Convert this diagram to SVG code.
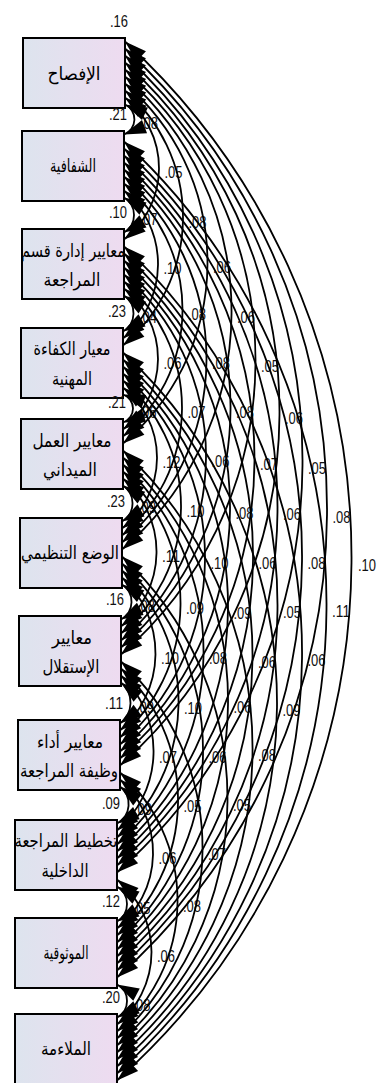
<svg xmlns="http://www.w3.org/2000/svg" width="380" height="1083" viewBox="0 0 380 1083">
<style>
.box{stroke:#000;stroke-width:2;fill:url(#g)}
.t{font-family:"DejaVu Sans",sans-serif;font-size:18px;fill:#000;text-anchor:middle}
.v{font-family:"Liberation Sans",Arial,sans-serif;font-size:16px;fill:#111;text-anchor:end}
.e{font-family:"Liberation Sans",Arial,sans-serif;font-size:16px;fill:#111}
.c{fill:none;stroke:#000;stroke-width:1.8;marker-start:url(#ah);marker-end:url(#ah)}
</style>
<defs>
<linearGradient id="g" x1="0" y1="0" x2="1" y2="0">
<stop offset="0" stop-color="#dde4ee"/>
<stop offset="1" stop-color="#eedbf0"/>
</linearGradient>
<marker id="ah" viewBox="-23 -8 24 16" refX="0" refY="0" markerWidth="24" markerHeight="16" markerUnits="userSpaceOnUse" orient="auto-start-reverse" overflow="visible">
<path d="M0,0 L-22,-7 L-22,7 Z" fill="#000"/>
</marker>
</defs>
<rect width="380" height="1083" fill="#fff"/>
<g id="n1"><rect class="box" x="23" y="38" width="102" height="70"/><text class="t" x="74" y="80" textLength="53" lengthAdjust="spacingAndGlyphs">الإفصاح</text><text class="v" x="128" y="27" textLength="18" lengthAdjust="spacingAndGlyphs">.16</text></g>
<g id="n2"><rect class="box" x="22" y="131" width="102" height="70"/><text class="t" x="73" y="172" textLength="46" lengthAdjust="spacingAndGlyphs">الشفافية</text><text class="v" x="127" y="120" textLength="18" lengthAdjust="spacingAndGlyphs">.21</text></g>
<g id="n3"><rect class="box" x="22" y="229" width="102" height="70"/><text class="t" x="73" y="257" textLength="104" lengthAdjust="spacingAndGlyphs">معايير إدارة قسم</text><text class="t" x="72" y="286" textLength="57" lengthAdjust="spacingAndGlyphs">المراجعة</text><text class="v" x="127" y="218" textLength="18" lengthAdjust="spacingAndGlyphs">.10</text></g>
<g id="n4"><rect class="box" x="21" y="328" width="102" height="70"/><text class="t" x="72" y="355" textLength="77" lengthAdjust="spacingAndGlyphs">معيار الكفاءة</text><text class="t" x="72" y="385" textLength="40" lengthAdjust="spacingAndGlyphs">المهنية</text><text class="v" x="126" y="317" textLength="18" lengthAdjust="spacingAndGlyphs">.23</text></g>
<g id="n5"><rect class="box" x="21" y="419" width="102" height="70"/><text class="t" x="72" y="447" textLength="79" lengthAdjust="spacingAndGlyphs">معايير العمل</text><text class="t" x="70" y="476" textLength="54" lengthAdjust="spacingAndGlyphs">الميداني</text><text class="v" x="126" y="408" textLength="18" lengthAdjust="spacingAndGlyphs">.21</text></g>
<g id="n6"><rect class="box" x="20" y="518" width="102" height="70"/><text class="t" x="70" y="559" textLength="98" lengthAdjust="spacingAndGlyphs">الوضع التنظيمي</text><text class="v" x="125" y="507" textLength="18" lengthAdjust="spacingAndGlyphs">.23</text></g>
<g id="n7"><rect class="box" x="19" y="616" width="102" height="70"/><text class="t" x="72" y="644" textLength="40" lengthAdjust="spacingAndGlyphs">معايير</text><text class="t" x="71" y="673" textLength="57" lengthAdjust="spacingAndGlyphs">الإستقلال</text><text class="v" x="124" y="605" textLength="18" lengthAdjust="spacingAndGlyphs">.16</text></g>
<g id="n8"><rect class="box" x="18" y="720" width="102" height="70"/><text class="t" x="70" y="748" textLength="66" lengthAdjust="spacingAndGlyphs">معايير أداء</text><text class="t" x="69" y="777" textLength="98" lengthAdjust="spacingAndGlyphs">وظيفة المراجعة</text><text class="v" x="123" y="709" textLength="18" lengthAdjust="spacingAndGlyphs">.11</text></g>
<g id="n9"><rect class="box" x="15" y="820" width="102" height="70"/><text class="t" x="66" y="847" textLength="103" lengthAdjust="spacingAndGlyphs">تخطيط المراجعة</text><text class="t" x="65" y="877" textLength="47" lengthAdjust="spacingAndGlyphs">الداخلية</text><text class="v" x="120" y="809" textLength="18" lengthAdjust="spacingAndGlyphs">.09</text></g>
<g id="n10"><rect class="box" x="15" y="918" width="102" height="70"/><text class="t" x="66" y="959" textLength="45" lengthAdjust="spacingAndGlyphs">الموثوقية</text><text class="v" x="120" y="907" textLength="18" lengthAdjust="spacingAndGlyphs">.12</text></g>
<g id="n11"><rect class="box" x="15" y="1014" width="102" height="70"/><text class="t" x="66" y="1055" textLength="50" lengthAdjust="spacingAndGlyphs">الملاءمة</text><text class="v" x="120" y="1003" textLength="18" lengthAdjust="spacingAndGlyphs">.20</text></g>
<g id="edge-labels" class="e">
<text x="140" y="129" textLength="18" lengthAdjust="spacingAndGlyphs">.08</text>
<text x="139.5" y="224.5" textLength="18" lengthAdjust="spacingAndGlyphs">.07</text>
<text x="139" y="323" textLength="18" lengthAdjust="spacingAndGlyphs">.04</text>
<text x="138.5" y="418" textLength="18" lengthAdjust="spacingAndGlyphs">.06</text>
<text x="138" y="513" textLength="18" lengthAdjust="spacingAndGlyphs">.09</text>
<text x="137" y="611.5" textLength="18" lengthAdjust="spacingAndGlyphs">.08</text>
<text x="136" y="712.5" textLength="18" lengthAdjust="spacingAndGlyphs">.09</text>
<text x="134" y="814.5" textLength="18" lengthAdjust="spacingAndGlyphs">.09</text>
<text x="132.5" y="913.5" textLength="18" lengthAdjust="spacingAndGlyphs">.05</text>
<text x="132.5" y="1010.5" textLength="18" lengthAdjust="spacingAndGlyphs">.08</text>
<text x="164.5" y="178" textLength="18" lengthAdjust="spacingAndGlyphs">.05</text>
<text x="163.5" y="274" textLength="18" lengthAdjust="spacingAndGlyphs">.10</text>
<text x="163.5" y="368.5" textLength="18" lengthAdjust="spacingAndGlyphs">.06</text>
<text x="162.5" y="467.5" textLength="18" lengthAdjust="spacingAndGlyphs">.12</text>
<text x="162" y="562" textLength="18" lengthAdjust="spacingAndGlyphs">.11</text>
<text x="161" y="663.5" textLength="18" lengthAdjust="spacingAndGlyphs">.10</text>
<text x="159" y="762.5" textLength="18" lengthAdjust="spacingAndGlyphs">.07</text>
<text x="158.5" y="863.5" textLength="18" lengthAdjust="spacingAndGlyphs">.06</text>
<text x="157" y="961.5" textLength="18" lengthAdjust="spacingAndGlyphs">.06</text>
<text x="188.5" y="227.5" textLength="18" lengthAdjust="spacingAndGlyphs">.08</text>
<text x="188" y="319.5" textLength="18" lengthAdjust="spacingAndGlyphs">.08</text>
<text x="187.5" y="418" textLength="18" lengthAdjust="spacingAndGlyphs">.07</text>
<text x="186.5" y="516.5" textLength="18" lengthAdjust="spacingAndGlyphs">.10</text>
<text x="186" y="614" textLength="18" lengthAdjust="spacingAndGlyphs">.09</text>
<text x="184" y="713.5" textLength="18" lengthAdjust="spacingAndGlyphs">.10</text>
<text x="183.5" y="811.5" textLength="18" lengthAdjust="spacingAndGlyphs">.05</text>
<text x="183" y="911.5" textLength="18" lengthAdjust="spacingAndGlyphs">.08</text>
<text x="213" y="273" textLength="18" lengthAdjust="spacingAndGlyphs">.06</text>
<text x="212" y="369" textLength="18" lengthAdjust="spacingAndGlyphs">.08</text>
<text x="211.5" y="467" textLength="18" lengthAdjust="spacingAndGlyphs">.06</text>
<text x="210.5" y="568.5" textLength="18" lengthAdjust="spacingAndGlyphs">.10</text>
<text x="209" y="664" textLength="18" lengthAdjust="spacingAndGlyphs">.08</text>
<text x="208.5" y="762.5" textLength="18" lengthAdjust="spacingAndGlyphs">.06</text>
<text x="208" y="859.5" textLength="18" lengthAdjust="spacingAndGlyphs">.07</text>
<text x="237" y="322.5" textLength="18" lengthAdjust="spacingAndGlyphs">.06</text>
<text x="236" y="418" textLength="18" lengthAdjust="spacingAndGlyphs">.08</text>
<text x="235.5" y="519" textLength="18" lengthAdjust="spacingAndGlyphs">.08</text>
<text x="233.5" y="618.5" textLength="18" lengthAdjust="spacingAndGlyphs">.09</text>
<text x="233.5" y="713" textLength="18" lengthAdjust="spacingAndGlyphs">.06</text>
<text x="233" y="810.5" textLength="18" lengthAdjust="spacingAndGlyphs">.05</text>
<text x="261" y="371.5" textLength="18" lengthAdjust="spacingAndGlyphs">.05</text>
<text x="260" y="470" textLength="18" lengthAdjust="spacingAndGlyphs">.07</text>
<text x="258.5" y="569" textLength="18" lengthAdjust="spacingAndGlyphs">.06</text>
<text x="258" y="667.5" textLength="18" lengthAdjust="spacingAndGlyphs">.06</text>
<text x="258" y="761" textLength="18" lengthAdjust="spacingAndGlyphs">.08</text>
<text x="285" y="423.5" textLength="18" lengthAdjust="spacingAndGlyphs">.06</text>
<text x="283" y="520" textLength="18" lengthAdjust="spacingAndGlyphs">.06</text>
<text x="283" y="618" textLength="18" lengthAdjust="spacingAndGlyphs">.05</text>
<text x="282.5" y="715.5" textLength="18" lengthAdjust="spacingAndGlyphs">.09</text>
<text x="308" y="473.5" textLength="18" lengthAdjust="spacingAndGlyphs">.05</text>
<text x="307.5" y="569" textLength="18" lengthAdjust="spacingAndGlyphs">.08</text>
<text x="307.5" y="666" textLength="18" lengthAdjust="spacingAndGlyphs">.06</text>
<text x="332.5" y="522.5" textLength="18" lengthAdjust="spacingAndGlyphs">.08</text>
<text x="332" y="617" textLength="18" lengthAdjust="spacingAndGlyphs">.11</text>
<text x="358" y="571" textLength="18" lengthAdjust="spacingAndGlyphs">.10</text>
</g>
<g id="connectors">
<path class="c" d="M125,104.5 A16.3,16.3 0 0 1 124,134.5"/>
<path class="c" d="M124,197.5 A20.3,20.3 0 0 1 124,232.5"/>
<path class="c" d="M124,295.5 A21.2,21.2 0 0 1 123,331.5"/>
<path class="c" d="M123,394.5 A14.8,14.8 0 0 1 123,422.5"/>
<path class="c" d="M123,485.5 A21.2,21.2 0 0 1 122,521.5"/>
<path class="c" d="M122,584.5 A20.3,20.3 0 0 1 121,619.5"/>
<path class="c" d="M121,682.5 A26,26 0 0 1 120,723.5"/>
<path class="c" d="M120,786.5 A22.1,22.1 0 0 1 117,823.5"/>
<path class="c" d="M117,886.5 A20.3,20.3 0 0 1 117,921.5"/>
<path class="c" d="M117,984.5 A18.6,18.6 0 0 1 117,1017.5"/>
<path class="c" d="M125,97.5 A90.3,90.3 0 0 1 124,239.5"/>
<path class="c" d="M124,190.5 A96.6,96.6 0 0 1 123,338.5"/>
<path class="c" d="M124,288.5 A89.3,89.3 0 0 1 123,429.5"/>
<path class="c" d="M123,387.5 A89.3,89.3 0 0 1 122,528.5"/>
<path class="c" d="M123,478.5 A96.6,96.6 0 0 1 121,626.5"/>
<path class="c" d="M122,577.5 A102.1,102.1 0 0 1 120,730.5"/>
<path class="c" d="M121,675.5 A104.3,104.3 0 0 1 117,830.5"/>
<path class="c" d="M120,779.5 A97.7,97.7 0 0 1 117,928.5"/>
<path class="c" d="M117,879.5 A93.4,93.4 0 0 1 117,1024.5"/>
<path class="c" d="M125,90.5 A167.3,167.3 0 0 1 123,345.5"/>
<path class="c" d="M124,183.5 A165.1,165.1 0 0 1 123,436.5"/>
<path class="c" d="M124,281.5 A166.2,166.2 0 0 1 122,535.5"/>
<path class="c" d="M123,380.5 A165.1,165.1 0 0 1 121,633.5"/>
<path class="c" d="M123,471.5 A179.4,179.4 0 0 1 120,737.5"/>
<path class="c" d="M122,570.5 A180.5,180.5 0 0 1 117,837.5"/>
<path class="c" d="M121,668.5 A180.5,180.5 0 0 1 117,935.5"/>
<path class="c" d="M120,772.5 A171.6,171.6 0 0 1 117,1031.5"/>
<path class="c" d="M125,83.5 A235.8,235.8 0 0 1 123,443.5"/>
<path class="c" d="M124,176.5 A242.3,242.3 0 0 1 122,542.5"/>
<path class="c" d="M124,274.5 A242.3,242.3 0 0 1 121,640.5"/>
<path class="c" d="M123,373.5 A247.8,247.8 0 0 1 120,744.5"/>
<path class="c" d="M123,464.5 A257.9,257.9 0 0 1 117,844.5"/>
<path class="c" d="M122,563.5 A256.8,256.8 0 0 1 117,942.5"/>
<path class="c" d="M121,661.5 A254.5,254.5 0 0 1 117,1038.5"/>
<path class="c" d="M125,76.5 A312.9,312.9 0 0 1 122,549.5"/>
<path class="c" d="M124,169.5 A318.4,318.4 0 0 1 121,647.5"/>
<path class="c" d="M124,267.5 A325.1,325.1 0 0 1 120,751.5"/>
<path class="c" d="M123,366.5 A326.3,326.3 0 0 1 117,851.5"/>
<path class="c" d="M123,457.5 A334.2,334.2 0 0 1 117,949.5"/>
<path class="c" d="M122,556.5 A330.8,330.8 0 0 1 117,1045.5"/>
<path class="c" d="M125,69.5 A389.1,389.1 0 0 1 121,654.5"/>
<path class="c" d="M124,162.5 A401.4,401.4 0 0 1 120,758.5"/>
<path class="c" d="M124,260.5 A403.6,403.6 0 0 1 117,858.5"/>
<path class="c" d="M123,359.5 A402.5,402.5 0 0 1 117,956.5"/>
<path class="c" d="M123,450.5 A408.1,408.1 0 0 1 117,1052.5"/>
<path class="c" d="M125,62.5 A472,472 0 0 1 120,765.5"/>
<path class="c" d="M124,155.5 A479.9,479.9 0 0 1 117,865.5"/>
<path class="c" d="M124,253.5 A479.9,479.9 0 0 1 117,963.5"/>
<path class="c" d="M123,352.5 A476.5,476.5 0 0 1 117,1059.5"/>
<path class="c" d="M125,55.5 A550.5,550.5 0 0 1 117,872.5"/>
<path class="c" d="M124,148.5 A556.1,556.1 0 0 1 117,970.5"/>
<path class="c" d="M124,246.5 A553.8,553.8 0 0 1 117,1066.5"/>
<path class="c" d="M125,48.5 A626.7,626.7 0 0 1 117,977.5"/>
<path class="c" d="M124,141.5 A630.1,630.1 0 0 1 117,1073.5"/>
<path class="c" d="M125,41.5 A700.7,700.7 0 0 1 117,1080.5"/>
</g>
</svg>
